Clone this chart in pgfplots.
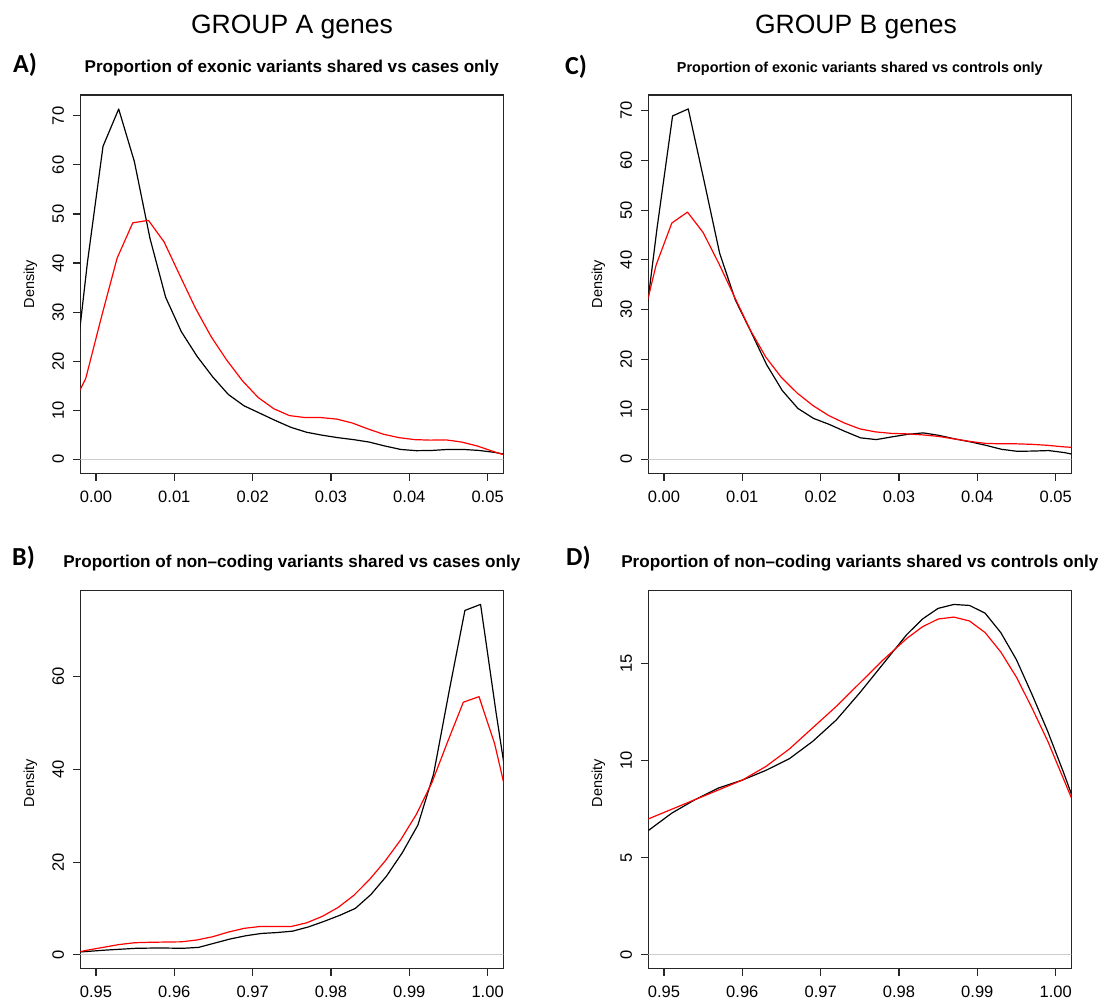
\documentclass[border=0pt]{standalone}
\usepackage{fontspec}
\setmainfont{Liberation Sans}
\newfontfamily\carlito{Carlito}
\usepackage{pgfplots}
\pgfplotsset{compat=1.18}
\newcommand\fs[1]{\fontsize{#1}{#1}\selectfont}
\definecolor{zl}{RGB}{205,205,205}
\pgfplotsset{
 rplot/.style={
  scale only axis, width=423pt, height=378.3pt,
  axis line style={draw=black!85, line width=1.1pt},
  tick align=outside, xtick pos=bottom, ytick pos=left,
  major tick length=7.5pt,
  every tick/.style={black!85, line width=1.1pt},
  xticklabel style={font=\fs{16.5}, inner sep=0pt},
  yticklabel style={font=\fs{16.5}, rotate=90, anchor=south, inner sep=0pt},
  xticklabel shift=9.5pt, yticklabel shift=8.5pt,
  scaled x ticks=false, scaled y ticks=false,
  clip=true,
  every axis plot/.append style={line width=1.2pt, line join=round},
 },
 expx/.style={xmin=-0.002, xmax=0.052, xtick={0,0.01,0.02,0.03,0.04,0.05},
  xticklabels={0.00,0.01,0.02,0.03,0.04,0.05}},
 ncx/.style={xmin=0.948, xmax=1.002, xtick={0.95,0.96,0.97,0.98,0.99,1.00},
  xticklabels={0.95,0.96,0.97,0.98,0.99,1.00}},
}
\begin{document}
\begin{tikzpicture}
\useasboundingbox (0,0) rectangle (1104pt,1001pt);
% titles
\node[anchor=base, font=\fs{26.5}] at (292pt,967.3pt) {GROUP A genes};
\node[anchor=base, font=\fs{26.5}] at (856pt,967.3pt) {GROUP B genes};
\node[anchor=base west, font=\carlito\bfseries\fs{26}, inner sep=0pt] at (13pt,928pt) {A)};
\node[anchor=base west, font=\carlito\bfseries\fs{26}, inner sep=0pt] at (565pt,926pt) {C)};
\node[anchor=base west, font=\carlito\bfseries\fs{26}, inner sep=0pt] at (12pt,435pt) {B)};
\node[anchor=base west, font=\carlito\bfseries\fs{26}, inner sep=0pt] at (566pt,435pt) {D)};
\node[anchor=base, font=\bfseries\fs{17.1}] at (291.8pt,928pt) {Proportion of exonic variants shared vs cases only};
\node[anchor=base, font=\bfseries\fs{14.4}] at (859.8pt,928pt) {Proportion of exonic variants shared vs controls only};
\node[anchor=base, font=\bfseries\fs{17.1}] at (291.8pt,433pt) {Proportion of non–coding variants shared vs cases only};
\node[anchor=base, font=\bfseries\fs{17.1}] at (859.8pt,433pt) {Proportion of non–coding variants shared vs controls only};
\node[rotate=90, font=\fs{14.5}] at (30.3pt,716.8pt) {Density};
\node[rotate=90, font=\fs{14.5}] at (598.3pt,716.8pt) {Density};
\node[rotate=90, font=\fs{14.5}] at (30.3pt,218pt) {Density};
\node[rotate=90, font=\fs{14.5}] at (598.3pt,218pt) {Density};

% Panel A
\begin{axis}[rplot, expx, at={(80.3pt,527.7pt)}, anchor=south west,
  ymin=-2.86, ymax=74.26, ytick={0,10,20,30,40,50,60,70}, yticklabels={0,10,20,30,40,50,60,70}]
\addplot[zl, line width=1.3pt] coordinates {(-0.01,0) (0.06,0)};
\addplot[black] coordinates {(-0.0031,12) (-0.0011,40) (0.0009,63.8) (0.0029,71.4) (0.0049,60.7) (0.0069,45) (0.0089,33) (0.0109,26) (0.0129,21) (0.0149,16.8) (0.0169,13.2) (0.0189,10.9) (0.0209,9.4) (0.0229,7.9) (0.0249,6.5) (0.0269,5.5) (0.0289,4.9) (0.0309,4.4) (0.0329,4.0) (0.0349,3.5) (0.0369,2.7) (0.0389,2.0) (0.0409,1.75) (0.0429,1.8) (0.0449,2.0) (0.0469,2.0) (0.0489,1.8) (0.0509,1.4) (0.0529,0.8)};
\addplot[red] coordinates {(-0.0033,10) (-0.0013,16.5) (0.0007,29) (0.0027,41) (0.0047,48.2) (0.0067,48.7) (0.0087,44.3) (0.0107,37.5) (0.0127,30.8) (0.0147,25) (0.0167,20.2) (0.0187,16) (0.0207,12.6) (0.0227,10.3) (0.0247,8.9) (0.0267,8.5) (0.0287,8.5) (0.0307,8.2) (0.0327,7.4) (0.0347,6.2) (0.0367,5.1) (0.0387,4.4) (0.0407,4.0) (0.0427,3.9) (0.0447,3.95) (0.0467,3.5) (0.0487,2.7) (0.0507,1.6) (0.0527,0.6)};
\end{axis}

% Panel C
\begin{axis}[rplot, expx, at={(648.3pt,527.7pt)}, anchor=south west,
  ymin=-2.81, ymax=73.1, ytick={0,10,20,30,40,50,60,70}, yticklabels={0,10,20,30,40,50,60,70}]
\addplot[zl, line width=1.3pt] coordinates {(-0.01,0) (0.06,0)};
\addplot[black] coordinates {(-0.0029,21) (-0.0009,46.2) (0.0011,68.9) (0.0031,70.3) (0.0051,56) (0.0071,41.4) (0.0091,32) (0.0111,25.6) (0.0131,19) (0.0151,13.8) (0.0171,10.2) (0.0191,8.2) (0.0211,7.0) (0.0231,5.6) (0.0251,4.3) (0.0271,3.95) (0.0291,4.5) (0.0311,5.0) (0.0331,5.3) (0.0351,4.8) (0.0371,4.1) (0.0391,3.5) (0.0411,2.8) (0.0431,2.0) (0.0451,1.6) (0.0471,1.65) (0.0491,1.75) (0.0511,1.35) (0.0531,0.7)};
\addplot[red] coordinates {(-0.0030,26) (-0.0010,39) (0.0010,47.4) (0.0030,49.6) (0.0050,45.5) (0.0070,39.3) (0.0090,32.6) (0.0110,26) (0.0130,20.5) (0.0150,16.4) (0.0170,13.3) (0.0190,10.8) (0.0210,8.8) (0.0230,7.3) (0.0250,6.1) (0.0270,5.5) (0.0290,5.2) (0.0310,5.1) (0.0330,4.9) (0.0350,4.6) (0.0370,4.1) (0.0390,3.6) (0.0410,3.2) (0.0430,3.1) (0.0450,3.1) (0.0470,3.0) (0.0490,2.8) (0.0510,2.5) (0.0530,2.3)};
\end{axis}

% Panel B
\begin{axis}[rplot, ncx, at={(80.3pt,32.2pt)}, anchor=south west,
  ymin=-3.02, ymax=78.6, ytick={0,20,40,60}, yticklabels={0,20,40,60}]
\addplot[zl, line width=1.3pt] coordinates {(0.94,0) (1.01,0)};
\addplot[black] coordinates {(0.9471,0.5) (0.9491,0.75) (0.9511,1.0) (0.9531,1.2) (0.9551,1.4) (0.9571,1.45) (0.9591,1.45) (0.9611,1.4) (0.9631,1.6) (0.9651,2.5) (0.9671,3.4) (0.9691,4.1) (0.9711,4.6) (0.9731,4.8) (0.9751,5.1) (0.9771,6.0) (0.9791,7.2) (0.9811,8.5) (0.9831,10.0) (0.9851,13.0) (0.9871,17.0) (0.9891,22.0) (0.9911,28.0) (0.9931,39.0) (0.9951,57.0) (0.9971,74.3) (0.9991,75.6) (1.0011,52) (1.0031,30)};
\addplot[red] coordinates {(0.9469,0.3) (0.9489,1.0) (0.9509,1.6) (0.9529,2.2) (0.9549,2.6) (0.9569,2.7) (0.9589,2.75) (0.9609,2.8) (0.9629,3.2) (0.9649,3.9) (0.9669,4.9) (0.9689,5.7) (0.9709,6.1) (0.9729,6.1) (0.9749,6.1) (0.9769,6.9) (0.9789,8.3) (0.9809,10.2) (0.9829,12.8) (0.9849,16.2) (0.9869,20.2) (0.9889,24.8) (0.9909,30.3) (0.9929,37.2) (0.9949,46.0) (0.9969,54.5) (0.9989,55.7) (1.0009,45.5) (1.0029,31)};
\end{axis}

% Panel D
\begin{axis}[rplot, ncx, at={(648.3pt,32.2pt)}, anchor=south west,
  ymin=-0.722, ymax=18.77, ytick={0,5,10,15}, yticklabels={0,5,10,15}]
\addplot[zl, line width=1.3pt] coordinates {(0.94,0) (1.01,0)};
\addplot[black] coordinates {(0.948,6.4) (0.951,7.3) (0.954,8.0) (0.957,8.6) (0.960,9.0) (0.963,9.5) (0.966,10.1) (0.969,11.0) (0.972,12.1) (0.975,13.5) (0.978,15.0) (0.981,16.5) (0.983,17.3) (0.985,17.85) (0.987,18.05) (0.989,18.0) (0.991,17.6) (0.993,16.6) (0.995,15.2) (0.997,13.4) (0.999,11.5) (1.001,9.4) (1.002,8.3)};
\addplot[red] coordinates {(0.948,7.0) (0.951,7.5) (0.954,8.0) (0.957,8.5) (0.960,9.0) (0.963,9.7) (0.966,10.6) (0.969,11.7) (0.972,12.8) (0.975,14.0) (0.978,15.2) (0.981,16.3) (0.983,16.9) (0.985,17.3) (0.987,17.4) (0.989,17.2) (0.991,16.6) (0.993,15.6) (0.995,14.3) (0.997,12.7) (0.999,11.0) (1.002,8.1)};
\end{axis}
\end{tikzpicture}
\end{document}
